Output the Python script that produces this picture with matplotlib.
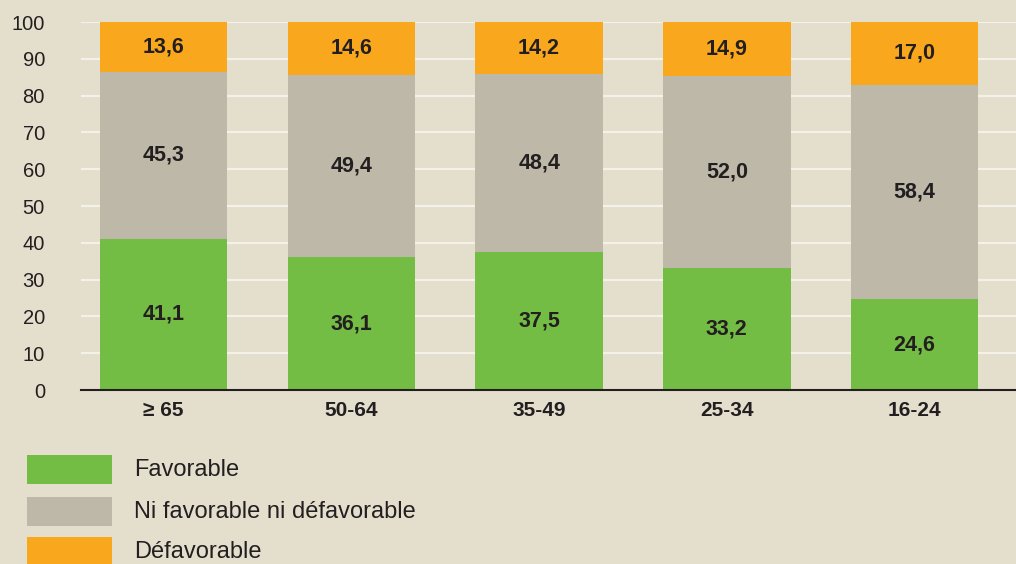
import matplotlib
matplotlib.use("Agg")
import matplotlib.pyplot as plt
from matplotlib.patches import Rectangle
from matplotlib import font_manager as fm
import numpy as np

categories = ["≥ 65", "50-64", "35-49", "25-34", "16-24"]
favorable = [41.1, 36.1, 37.5, 33.2, 24.6]
neutre = [45.3, 49.4, 48.4, 52.0, 58.4]
defavorable = [13.6, 14.6, 14.2, 14.9, 17.0]
series_names = ["Favorable", "Ni favorable ni défavorable", "Défavorable"]
colors = ["#74bd44", "#beb8a9", "#f9a81e"]

bg = "#e4dfcd"
txt = "#231f20"

reg = bold = None
for f in fm.findSystemFonts():
    name = f.split("/")[-1]
    if name == "LiberationSans-Regular.ttf":
        reg = f
    elif name == "LiberationSans-Bold.ttf":
        bold = f
fp_reg = fm.FontProperties(fname=reg) if reg else fm.FontProperties(family="DejaVu Sans")
fp_bold = fm.FontProperties(fname=bold) if bold else fm.FontProperties(family="DejaVu Sans", weight="bold")

fig = plt.figure(figsize=(10.16, 5.64), dpi=100, facecolor=bg)
ax = fig.add_axes([81/1016, 1-390/564, 1-81/1016, (390-22)/564])
ax.set_facecolor(bg)

x = np.arange(len(categories))
w = 0.68
bottom = np.zeros(len(categories))
for vals, col in zip([favorable, neutre, defavorable], colors):
    vals = np.array(vals)
    ax.bar(x, vals, w, bottom=bottom, color=col, zorder=3, linewidth=0)
    for xi, b, v in zip(x, bottom, vals):
        ax.text(xi, b + v/2, f"{v:.1f}".replace(".", ","), ha="center", va="center",
                fontproperties=fp_bold, fontsize=15.5, color=txt, zorder=4)
    bottom = bottom + vals

ax.set_xlim(-0.44, 4.54)
ax.set_ylim(0, 100)
ax.set_yticks(range(0, 101, 10))
ax.yaxis.grid(True, color="#f4f1e8", linewidth=1.5, zorder=1)
ax.set_axisbelow(True)
ax.set_xticks(x)
ax.set_xticklabels(categories)
for lbl in ax.get_xticklabels():
    lbl.set_fontproperties(fp_bold)
    lbl.set_fontsize(15)
    lbl.set_color(txt)
ax.tick_params(axis="y", length=0, pad=26)
ax.tick_params(axis="x", length=0, pad=8)
for lbl in ax.get_yticklabels():
    lbl.set_fontproperties(fp_reg)
    lbl.set_fontsize(14.5)
    lbl.set_color(txt)
    lbl.set_horizontalalignment("right")
for s in ["top", "right", "left"]:
    ax.spines[s].set_visible(False)
ax.spines["bottom"].set_color(txt)
ax.spines["bottom"].set_linewidth(1.5)
ax.spines["bottom"].set_zorder(5)

# legend
ys = [455, 497, 537]
for name, col, y in zip(series_names, colors, ys):
    fig.patches.append(Rectangle((27/1016, 1-(y+29)/564), 85/1016, 29/564,
                                 transform=fig.transFigure, color=col, linewidth=0))
    fig.text(134/1016, 1-(y+15)/564, name, fontproperties=fp_reg, fontsize=17,
             color=txt, va="center", ha="left")

fig.savefig("out.png", dpi=100, facecolor=bg)
